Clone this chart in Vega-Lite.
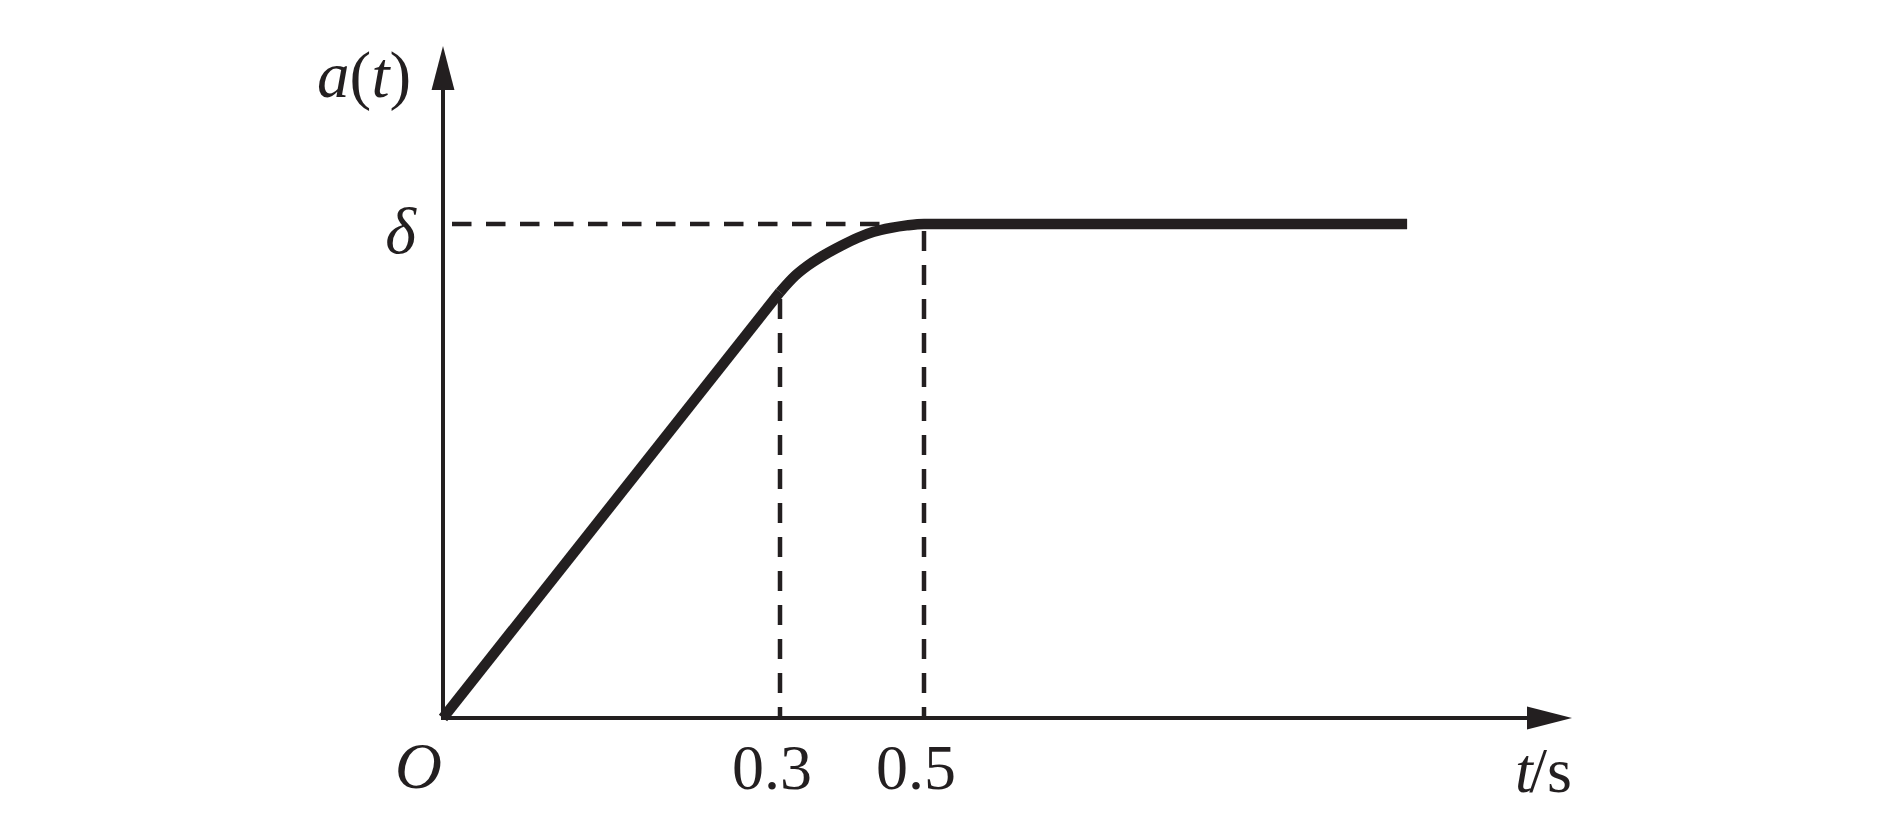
{
  "$schema": "https://vega.github.io/schema/vega-lite/v6.json",
  "width": 1129,
  "height": 672,
  "autosize": {"type": "none"},
  "padding": {"left": 443, "top": 46, "right": 317, "bottom": 99},
  "background": "white",
  "config": {"view": {"stroke": null}},
  "encoding": {
    "x": {"field": "t", "type": "quantitative", "axis": null,
          "scale": {"type": "linear", "domain": [0, 0.3, 1.4], "range": [0, 337, 1129], "zero": false, "nice": false}},
    "y": {"field": "a", "type": "quantitative", "axis": null,
          "scale": {"type": "linear", "domain": [0, 1.36], "zero": false, "nice": false}}
  },
  "layer": [
    {
      "data": {"values": [{"t": 0, "t2": 1.36, "a": 0}]},
      "mark": {"type": "rule", "color": "#231f20", "strokeWidth": 4, "strokeCap": "square"},
      "encoding": {"x2": {"field": "t2"}}
    },
    {
      "data": {"values": [{"t": 0, "a": 0, "a2": 1.3}]},
      "mark": {"type": "rule", "color": "#231f20", "strokeWidth": 4, "strokeCap": "square"},
      "encoding": {"y2": {"field": "a2"}}
    },
    {
      "data": {"values": [{"t": 1.4, "a": 0}]},
      "mark": {"type": "point", "shape": "M0,0 L-2,-0.51 L-2,0.51 Z", "size": 2025, "filled": true, "color": "#231f20", "opacity": 1, "strokeWidth": 0}
    },
    {
      "data": {"values": [{"t": 0, "a": 1.36}]},
      "mark": {"type": "point", "shape": "M0,0 L-0.52,2 L0.52,2 Z", "size": 1936, "filled": true, "color": "#231f20", "opacity": 1, "strokeWidth": 0}
    },
    {
      "data": {"values": [{"t": 0, "t2": 0.44, "a": 1}]},
      "mark": {"type": "rule", "color": "#231f20", "strokeWidth": 4.5, "strokeDash": [19.5, 14.5], "strokeDashOffset": 25},
      "encoding": {"x2": {"field": "t2"}}
    },
    {
      "data": {"values": [{"t": 0.3, "a": 0.862, "a2": 0}, {"t": 0.5, "a": 1, "a2": 0}]},
      "mark": {"type": "rule", "color": "#231f20", "strokeWidth": 4.5, "strokeDash": [20, 14], "strokeDashOffset": 27},
      "encoding": {"y2": {"field": "a2"}}
    },
    {
      "data": {"values": [
        {"t": 0, "a": 0},
        {"t": 0.3, "a": 0.862}
      ]},
      "mark": {"type": "line", "color": "#231f20", "strokeWidth": 10.5, "strokeJoin": "round", "strokeCap": "butt"},
      "encoding": {"order": {"field": "t", "type": "quantitative"}}
    },
    {
      "data": {"values": [
        {"t": 0.3, "a": 0.862},
        {"t": 0.321, "a": 0.895},
        {"t": 0.338, "a": 0.915},
        {"t": 0.359, "a": 0.935},
        {"t": 0.384, "a": 0.955},
        {"t": 0.408, "a": 0.972},
        {"t": 0.43, "a": 0.984},
        {"t": 0.454, "a": 0.992},
        {"t": 0.476, "a": 0.997},
        {"t": 0.5, "a": 1.0},
        {"t": 1.171, "a": 1.0}
      ]},
      "mark": {"type": "line", "color": "#231f20", "strokeWidth": 10.5, "strokeJoin": "round", "strokeCap": "butt", "interpolate": "monotone"},
      "encoding": {"order": {"field": "t", "type": "quantitative"}}
    },
    {
      "data": {"values": [{"t": 0.3, "a": 0, "label": "0.3"}, {"t": 0.5, "a": 0, "label": "0.5"}]},
      "mark": {"type": "text", "font": "Liberation Serif", "fontSize": 64, "color": "#231f20", "align": "center", "baseline": "alphabetic", "dx": -8, "dy": 71},
      "encoding": {"text": {"field": "label"}}
    },
    {
      "data": {"values": [{"t": 0, "a": 0, "label": "O"}]},
      "mark": {"type": "text", "font": "Liberation Serif", "fontSize": 65, "fontStyle": "italic", "color": "#231f20", "align": "right", "baseline": "alphabetic", "dx": -1, "dy": 70},
      "encoding": {"text": {"field": "label"}}
    },
    {
      "data": {"values": [{"t": 0, "a": 1, "label": "δ"}]},
      "mark": {"type": "text", "font": "Liberation Serif", "fontSize": 66, "fontStyle": "italic", "color": "#231f20", "align": "right", "baseline": "alphabetic", "dx": -27, "dy": 29},
      "encoding": {"text": {"field": "label"}}
    },
    {
      "data": {"values": [{"t": 0, "a": 1.36, "label": "a"}]},
      "mark": {"type": "text", "font": "Liberation Serif", "fontSize": 65, "fontStyle": "italic", "color": "#231f20", "align": "left", "baseline": "alphabetic", "dx": -126, "dy": 51},
      "encoding": {"text": {"field": "label"}}
    },
    {
      "data": {"values": [{"t": 0, "a": 1.36, "label": "("}]},
      "mark": {"type": "text", "font": "Liberation Serif", "fontSize": 65, "color": "#231f20", "align": "left", "baseline": "alphabetic", "dx": -93.5, "dy": 51},
      "encoding": {"text": {"field": "label"}}
    },
    {
      "data": {"values": [{"t": 0, "a": 1.36, "label": "t"}]},
      "mark": {"type": "text", "font": "Liberation Serif", "fontSize": 65, "fontStyle": "italic", "color": "#231f20", "align": "left", "baseline": "alphabetic", "dx": -71.5, "dy": 51},
      "encoding": {"text": {"field": "label"}}
    },
    {
      "data": {"values": [{"t": 0, "a": 1.36, "label": ")"}]},
      "mark": {"type": "text", "font": "Liberation Serif", "fontSize": 65, "color": "#231f20", "align": "left", "baseline": "alphabetic", "dx": -53.5, "dy": 51},
      "encoding": {"text": {"field": "label"}}
    },
    {
      "data": {"values": [{"t": 1.4, "a": 0, "label": "t"}]},
      "mark": {"type": "text", "font": "Liberation Serif", "fontSize": 64, "fontStyle": "italic", "color": "#231f20", "align": "left", "baseline": "alphabetic", "dx": -57, "dy": 74},
      "encoding": {"text": {"field": "label"}}
    },
    {
      "data": {"values": [{"t": 1.4, "a": 0, "label": "/s"}]},
      "mark": {"type": "text", "font": "Liberation Serif", "fontSize": 64, "color": "#231f20", "align": "right", "baseline": "alphabetic", "dx": 0, "dy": 74},
      "encoding": {"text": {"field": "label"}}
    }
  ]
}
